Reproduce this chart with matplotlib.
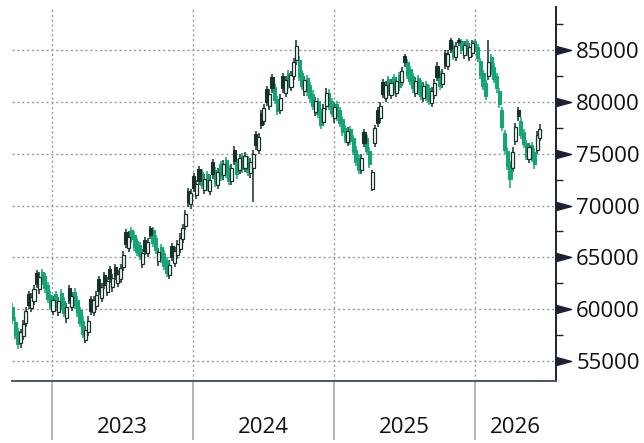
import numpy as np
import pandas as pd
import matplotlib
matplotlib.use("Agg")
import matplotlib.pyplot as plt
import matplotlib.dates as mdates
from matplotlib.path import Path
from matplotlib.transforms import blended_transform_factory
from matplotlib.ticker import FixedLocator

plt.rcParams['font.family'] = ['Open Sans', 'DejaVu Sans']

# ---------------- data (prices in thousands, weekly candles) ----------------
start_date = '2022-09-21'
n_weeks = 196

opens_k = [
    60.2, 58.8, 57.9, 56.7, 57.4, 58.7, 61.5, 60.1, 60.8, 63.5,
    61.9, 63.6, 63.2, 62.3, 61.4, 59.8, 61.5, 59.7, 61.6, 60.8,
    59.1, 62.0, 60.2, 61.7, 60.9, 59.9, 58.9, 57.0, 57.8, 61.0,
    59.7, 60.3, 62.9, 61.1, 63.3, 61.7, 63.9, 62.1, 64.1, 62.5,
    62.9, 64.1, 67.4, 65.9, 67.6, 67.2, 66.6, 66.2, 64.4, 66.7,
    65.4, 67.8, 67.6, 66.9, 64.6, 66.0, 65.4, 64.7, 63.3, 66.1,
    64.5, 65.2, 65.8, 66.8, 68.0, 71.4, 70.1, 72.8, 71.0, 73.5,
    73.2, 71.5, 73.0, 71.4, 74.2, 73.4, 72.0, 74.0, 72.9, 74.4,
    73.6, 72.4, 75.4, 74.2, 73.4, 74.8, 73.6, 74.5, 73.1, 73.6,
    76.9, 75.4, 78.9, 78.2, 81.2, 79.6, 82.4, 81.4, 80.3, 79.2,
    82.5, 80.9, 82.8, 81.4, 82.5, 84.0, 84.0, 82.8, 81.0, 82.3,
    81.6, 80.8, 79.0, 80.1, 79.0, 78.1, 79.6, 80.9, 80.1, 78.4,
    79.8, 79.2, 78.3, 77.5, 76.1, 77.4, 76.5, 75.4, 74.6, 73.4,
    77.1, 76.5, 75.3, 71.6, 76.0, 79.2, 78.4, 81.9, 80.4, 82.2,
    80.7, 82.4, 80.9, 82.6, 81.9, 84.4, 83.8, 83.2, 82.5, 80.9,
    82.3, 81.8, 80.4, 81.7, 81.3, 79.9, 80.7, 83.5, 82.7, 81.7,
    84.7, 83.5, 86.0, 85.5, 84.3, 86.0, 85.9, 84.5, 85.9, 84.3,
    84.7, 85.9, 85.3, 83.9, 82.8, 81.8, 82.5, 84.3, 83.4, 82.5,
    81.0, 79.2, 77.0, 75.3, 74.0, 73.6, 76.2, 79.2, 78.2, 77.1,
    76.0, 74.5, 75.8, 75.2, 75.4, 76.5,
]
closes_k = [
    59.0, 57.5, 56.6, 57.8, 58.6, 59.8, 60.4, 61.2, 61.9, 62.4,
    63.1, 62.7, 62.0, 61.0, 60.3, 60.9, 60.2, 60.8, 60.3, 59.6,
    60.2, 60.9, 61.3, 60.4, 59.6, 58.7, 57.6, 58.0, 58.9, 59.8,
    60.9, 61.4, 61.8, 62.1, 62.3, 62.7, 62.9, 63.0, 63.2, 63.4,
    64.0, 65.2, 66.3, 67.0, 66.8, 66.0, 65.5, 65.1, 65.4, 65.6,
    66.5, 67.2, 66.4, 65.7, 65.5, 64.9, 64.2, 63.5, 64.3, 65.0,
    65.6, 66.3, 66.9, 67.8, 69.2, 70.3, 71.2, 71.7, 72.1, 72.4,
    72.0, 72.6, 71.8, 72.5, 73.0, 72.2, 73.2, 72.8, 74.0, 73.1,
    72.4, 73.6, 74.3, 73.0, 74.6, 73.5, 74.8, 73.2, 74.2, 75.0,
    75.8, 76.6, 77.8, 79.4, 80.0, 80.8, 81.3, 80.2, 79.1, 80.4,
    81.3, 82.1, 81.6, 82.6, 83.8, 85.4, 82.4, 81.5, 82.1, 81.0,
    80.4, 79.6, 80.1, 78.8, 77.8, 79.4, 80.9, 79.6, 78.9, 79.5,
    78.6, 78.0, 77.1, 76.4, 77.2, 76.2, 75.3, 74.2, 73.4, 74.6,
    76.0, 75.3, 74.0, 73.2, 77.5, 78.0, 79.6, 80.8, 81.6, 81.0,
    81.8, 81.2, 82.0, 81.4, 83.0, 83.8, 82.6, 82.0, 81.3, 82.0,
    81.1, 80.6, 81.5, 80.5, 80.1, 81.0, 81.8, 82.4, 81.5, 82.8,
    83.6, 84.6, 85.1, 84.4, 85.4, 85.8, 85.0, 85.5, 84.8, 85.3,
    85.7, 85.2, 84.2, 82.6, 81.5, 80.6, 83.8, 83.0, 82.2, 81.3,
    79.8, 77.6, 75.4, 73.8, 72.6, 75.2, 77.6, 78.6, 76.8, 75.9,
    74.8, 75.6, 74.6, 74.0, 76.8, 77.4,
]
highs_k = [
    60.6, 59.2, 58.2, 58.1, 59.0, 60.2, 61.8, 61.6, 62.3, 63.8,
    63.6, 63.9, 63.5, 62.6, 61.8, 61.3, 61.8, 61.2, 61.9, 61.2,
    60.6, 62.3, 61.7, 62.0, 61.3, 60.2, 59.3, 58.4, 59.3, 61.3,
    61.3, 61.8, 63.2, 62.5, 63.6, 63.1, 64.2, 63.4, 64.4, 63.8,
    64.4, 65.6, 67.7, 67.5, 67.9, 67.5, 66.9, 66.5, 65.8, 67.0,
    66.9, 68.0, 67.9, 67.2, 65.9, 66.3, 65.7, 65.0, 64.7, 66.4,
    66.0, 66.7, 67.3, 68.2, 69.6, 71.7, 71.6, 73.1, 72.5, 73.8,
    73.5, 73.0, 73.3, 72.9, 74.5, 73.7, 73.6, 74.3, 74.4, 74.7,
    73.9, 74.0, 75.7, 74.5, 75.0, 75.1, 75.2, 74.8, 74.6, 75.4,
    77.2, 77.0, 79.2, 79.8, 81.5, 81.2, 82.7, 81.7, 80.6, 80.8,
    82.8, 82.5, 83.1, 83.0, 84.2, 86.0, 84.4, 83.1, 82.5, 82.6,
    81.9, 81.1, 80.5, 80.4, 79.3, 79.8, 81.3, 81.2, 80.4, 79.9,
    80.1, 79.5, 78.6, 77.8, 77.6, 77.7, 76.8, 75.7, 74.9, 75.0,
    77.4, 76.8, 75.6, 73.4, 77.8, 79.5, 80.0, 82.2, 82.0, 82.5,
    82.2, 82.7, 82.4, 82.9, 83.4, 84.6, 84.1, 83.5, 82.8, 82.4,
    82.6, 82.1, 81.9, 82.0, 81.6, 81.4, 82.2, 83.8, 83.0, 83.2,
    85.0, 85.0, 86.2, 85.8, 85.8, 86.2, 86.1, 85.9, 86.1, 85.7,
    86.0, 86.1, 85.6, 84.2, 83.1, 82.1, 86.0, 84.6, 83.7, 82.8,
    81.3, 79.5, 77.3, 75.6, 74.3, 75.6, 78.0, 79.5, 78.5, 77.4,
    76.3, 76.0, 76.1, 75.5, 77.2, 77.9,
]
lows_k = [
    58.6, 57.1, 56.2, 56.3, 57.0, 58.3, 60.0, 59.7, 60.4, 62.0,
    61.5, 62.3, 61.6, 60.6, 59.9, 59.4, 59.8, 59.3, 59.9, 59.2,
    58.7, 60.5, 59.8, 60.0, 59.2, 58.3, 57.2, 56.7, 57.4, 59.4,
    59.3, 59.9, 61.4, 60.7, 61.9, 61.3, 62.5, 61.7, 62.8, 62.1,
    62.5, 63.7, 65.9, 65.5, 66.4, 65.6, 65.1, 64.7, 64.0, 65.2,
    65.0, 66.8, 66.0, 65.3, 64.2, 64.5, 63.8, 63.1, 62.9, 64.6,
    64.1, 64.8, 65.4, 66.4, 67.6, 69.9, 69.7, 71.3, 70.6, 72.0,
    71.6, 71.1, 71.4, 71.0, 72.6, 71.8, 71.6, 72.4, 72.5, 72.7,
    72.0, 72.0, 73.9, 72.6, 73.0, 73.1, 73.2, 72.8, 72.7, 70.3,
    75.4, 75.0, 77.4, 77.8, 79.6, 79.2, 80.9, 79.8, 78.7, 78.8,
    80.9, 80.5, 81.2, 81.0, 82.1, 83.6, 82.0, 81.1, 80.6, 80.6,
    80.0, 79.2, 78.6, 78.4, 77.4, 77.7, 79.2, 79.2, 78.5, 78.0,
    78.2, 77.6, 76.7, 76.0, 75.7, 75.8, 74.9, 73.8, 73.0, 73.0,
    75.6, 74.9, 73.6, 71.4, 75.6, 77.6, 78.0, 80.4, 80.0, 80.6,
    80.3, 80.8, 80.5, 81.0, 81.5, 83.4, 82.2, 81.6, 80.9, 80.5,
    80.7, 80.2, 80.0, 80.1, 79.7, 79.5, 80.3, 82.0, 81.1, 81.3,
    83.2, 83.1, 84.7, 84.0, 83.9, 85.4, 84.6, 84.1, 84.4, 83.9,
    84.3, 84.8, 83.8, 82.2, 81.1, 80.2, 82.1, 82.6, 81.8, 80.9,
    79.4, 77.2, 75.0, 73.4, 71.7, 73.2, 75.8, 78.2, 76.4, 75.5,
    74.4, 74.1, 74.2, 73.5, 75.0, 76.2,
]
y_ticks = [55000, 60000, 65000, 70000, 75000, 80000, 85000]
y_minor = [57500, 62500, 67500, 72500, 77500, 82500, 87500]
years = [2023, 2024, 2025, 2026]

# ---------------- styling ----------------
GREEN = '#14a572'
DARK = '#16302a'
AXIS_DARK = '#1c2233'
GRID = '#9a9a9a'

dates = pd.date_range(start_date, periods=n_weeks, freq='7D')
x = mdates.date2num(dates)
o = np.array(opens_k) * 1000
c = np.array(closes_k) * 1000
h = np.array(highs_k) * 1000
l = np.array(lows_k) * 1000
prev_c = np.concatenate([[o[0]], c[:-1]])
up = c >= o
down_green = (~up) & (c < prev_c)
down_dark = (~up) & (c >= prev_c)

fig = plt.figure(figsize=(6.44, 4.43), dpi=100)
ax = fig.add_axes([12 / 644, 62 / 443, 544 / 644, 374 / 443])

x0 = mdates.date2num(pd.Timestamp('2022-09-20'))
x1 = mdates.date2num(pd.Timestamp('2026-07-29'))
ax.set_xlim(x0, x1)
ax.set_ylim(53070, 89150)

W = 8.0
# wicks
ax.vlines(x[down_green], l[down_green], h[down_green], color=GREEN, lw=1.1, zorder=2)
ax.vlines(x[down_dark], l[down_dark], h[down_dark], color=DARK, lw=1.1, zorder=2)
ax.vlines(x[up], l[up], h[up], color=DARK, lw=1.1, zorder=2)
# bodies
ax.bar(x[down_green], o[down_green] - c[down_green], bottom=c[down_green], width=W,
       color=GREEN, edgecolor=GREEN, lw=0.8, zorder=3)
ax.bar(x[down_dark], o[down_dark] - c[down_dark], bottom=c[down_dark], width=W,
       color=DARK, edgecolor=DARK, lw=0.8, zorder=3)
ax.bar(x[up], c[up] - o[up], bottom=o[up], width=W, facecolor='white',
       edgecolor=DARK, lw=0.9, zorder=4)

# spines
for s in ['top', 'left']:
    ax.spines[s].set_visible(False)
ax.spines['right'].set_color(AXIS_DARK)
ax.spines['right'].set_linewidth(1.4)
ax.spines['bottom'].set_color('#4b5563')
ax.spines['bottom'].set_linewidth(1.4)

# y axis on right
ax.yaxis.tick_right()
ax.set_yticks(y_ticks)
ax.set_yticklabels([str(v) for v in y_ticks])
ax.yaxis.set_minor_locator(FixedLocator(y_minor))
ax.tick_params(axis='y', which='major', length=0, pad=14.5, labelsize=16,
               labelcolor='#111111')
ax.tick_params(axis='y', which='minor', length=5, width=1.0, color=AXIS_DARK)

# triangle markers at major y ticks
tri = Path([(0, -0.27), (1, 0), (0, 0.27), (0, -0.27)],
           [Path.MOVETO, Path.LINETO, Path.LINETO, Path.CLOSEPOLY])
trans = blended_transform_factory(ax.transAxes, ax.transData)
ax.plot([1.0] * len(y_ticks), y_ticks, ls='none', marker=tri, ms=21.6,
        color=AXIS_DARK, transform=trans, clip_on=False, zorder=10)

# x axis: year boundaries as long ticks, labels centred in the visible segment
year_starts = [mdates.date2num(pd.Timestamp(f'{y}-01-01')) for y in years]
ax.set_xticks(year_starts)
ax.set_xticklabels([])
ax.tick_params(axis='x', which='major', length=42.5, width=1.1, color='#9aa0a8',
               direction='out')
centers = []
for i, ys in enumerate(year_starts):
    ye = year_starts[i + 1] if i + 1 < len(year_starts) else x1
    centers.append((max(ys, x0) + min(ye, x1)) / 2)
ax.xaxis.set_minor_locator(FixedLocator(centers))
ax.set_xticklabels([str(y) for y in years], minor=True)
ax.tick_params(axis='x', which='minor', length=0, pad=26, labelsize=16,
               labelcolor='#111111')

# grid
ax.grid(True, which='major', axis='both', color=GRID, lw=1.0,
        linestyle=(0, (1.5, 2.0)))
ax.set_axisbelow(True)

fig.savefig('out.png', dpi=100)
